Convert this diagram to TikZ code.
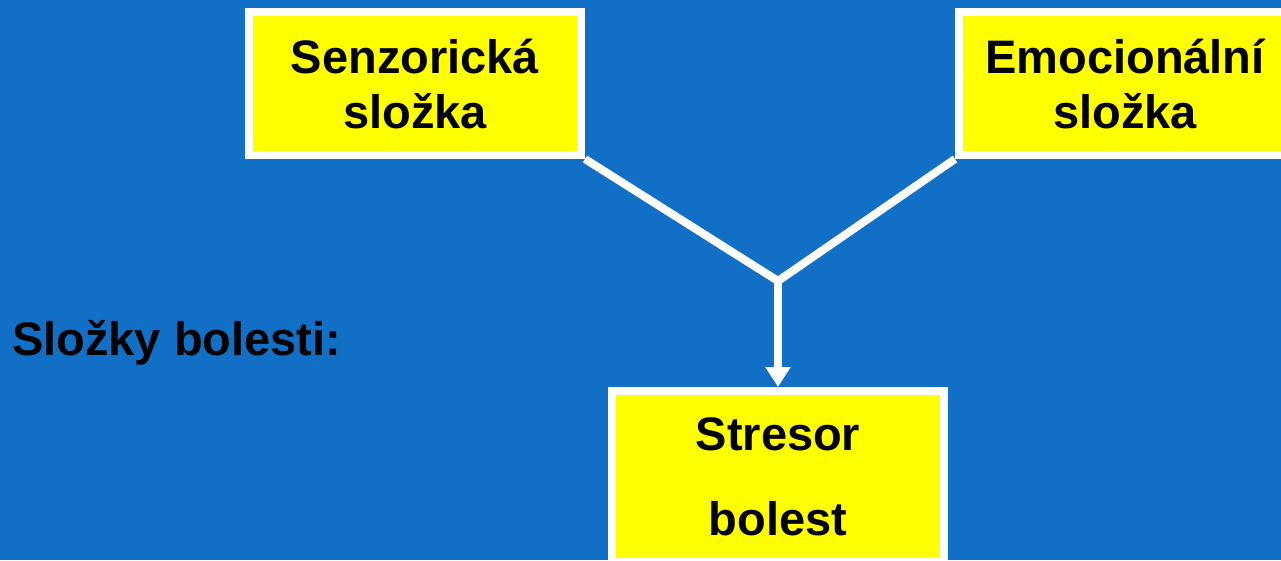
\documentclass[tikz,border=0pt]{standalone}
\usepackage{fontspec}
\setmainfont{Liberation Sans}
\usetikzlibrary{arrows.meta}
\definecolor{bgblue}{RGB}{17,112,198}
\definecolor{boxyellow}{RGB}{255,255,0}
\tikzset{
  box/.style={rectangle, draw=white, line width=8pt, fill=boxyellow,
    minimum width=332pt, align=center, inner sep=0pt,
    font=\fontsize{47}{55}\selectfont\bfseries, text=black},
  conn/.style={draw=white, line width=8pt},
  lbl/.style={font=\fontsize{47}{55}\selectfont\bfseries, text=black, inner sep=0pt}
}
\begin{document}
\begin{tikzpicture}[x=1pt,y=-1pt]
\useasboundingbox (0,0) rectangle (1281,560);
\clip (0,0) rectangle (1281,560);
\fill[bgblue] (0,0) rectangle (1281,560);
\node[box, minimum height=143pt] (sen) at (415,83.5) {Senzorická\\složka};
\node[box, minimum height=143pt] (emo) at (1125,83.5) {Emocionální\\složka};
\node[box, minimum height=171pt] (str) at (778,476.5) {Stresor\\[30pt]bolest};
\node[lbl, anchor=base west] (title) at (12,355) {Složky bolesti:};
\coordinate (J) at (778,281);
\draw[conn, line join=miter] (sen.south east) -- (J) -- (emo.south west);
\draw[conn, -{Triangle[width=24pt,length=20pt]}] (J) -- (str.north);
\end{tikzpicture}
\end{document}
